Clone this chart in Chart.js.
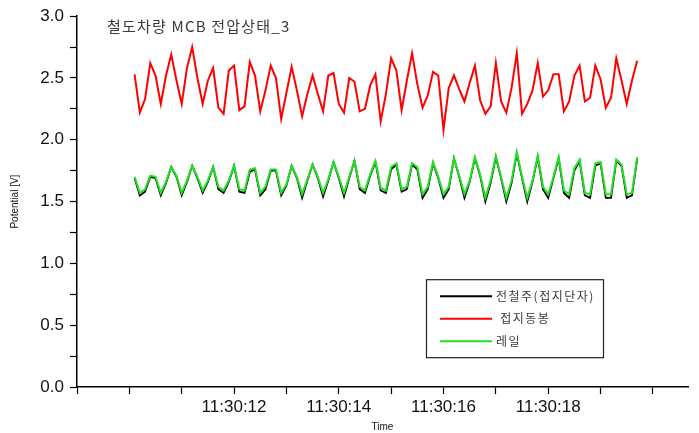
<!DOCTYPE html>
<html>
<head>
<meta charset="utf-8">
<title>철도차량 MCB 전압상태_3</title>
<script src="https://cdn.jsdelivr.net/npm/chart.js@4.4.0/dist/chart.umd.min.js"></script>
<style>
  html, body { margin: 0; padding: 0; background: #fff; }
  #wrap { width: 699px; height: 433px; }
</style>
</head>
<body>
<div id="wrap"><canvas id="mcbChart" width="699" height="433"></canvas></div>
<script>
// sample times, seconds after 11:30:00 (10 samples per second)
const sampleTimes = [
  10.1, 10.2, 10.3, 10.4, 10.5, 10.6, 10.7, 10.8, 10.9, 11.0,
  11.1, 11.2, 11.3, 11.4, 11.5, 11.6, 11.7, 11.8, 11.9, 12.0,
  12.1, 12.2, 12.3, 12.4, 12.5, 12.6, 12.7, 12.8, 12.9, 13.0,
  13.1, 13.2, 13.3, 13.4, 13.5, 13.6, 13.7, 13.8, 13.9, 14.0,
  14.1, 14.2, 14.3, 14.4, 14.5, 14.6, 14.7, 14.8, 14.9, 15.0,
  15.1, 15.2, 15.3, 15.4, 15.5, 15.6, 15.7, 15.8, 15.9, 16.0,
  16.1, 16.2, 16.3, 16.4, 16.5, 16.6, 16.7, 16.8, 16.9, 17.0,
  17.1, 17.2, 17.3, 17.4, 17.5, 17.6, 17.7, 17.8, 17.9, 18.0,
  18.1, 18.2, 18.3, 18.4, 18.5, 18.6, 18.7, 18.8, 18.9, 19.0,
  19.1, 19.2, 19.3, 19.4, 19.5, 19.6, 19.7
];

// 전철주(접지단자)
const poleTerminal = [
  1.69, 1.55, 1.58, 1.70, 1.69, 1.55, 1.65, 1.78, 1.70, 1.55,
  1.66, 1.79, 1.69, 1.57, 1.66, 1.78, 1.60, 1.57, 1.66, 1.79,
  1.58, 1.57, 1.74, 1.76, 1.55, 1.60, 1.75, 1.75, 1.55, 1.63,
  1.79, 1.69, 1.53, 1.67, 1.80, 1.69, 1.54, 1.67, 1.82, 1.69,
  1.54, 1.69, 1.83, 1.60, 1.57, 1.71, 1.82, 1.59, 1.57, 1.76,
  1.80, 1.58, 1.60, 1.80, 1.76, 1.53, 1.60, 1.81, 1.69, 1.53,
  1.60, 1.85, 1.70, 1.53, 1.66, 1.85, 1.71, 1.50, 1.65, 1.86,
  1.69, 1.50, 1.65, 1.89, 1.69, 1.50, 1.66, 1.86, 1.60, 1.53,
  1.69, 1.85, 1.57, 1.53, 1.75, 1.83, 1.55, 1.53, 1.79, 1.81,
  1.53, 1.53, 1.83, 1.79, 1.53, 1.55, 1.85
];

// 접지동봉
const groundRod = [
  2.53, 2.22, 2.33, 2.62, 2.52, 2.29, 2.52, 2.69, 2.48, 2.29,
  2.58, 2.75, 2.50, 2.29, 2.48, 2.58, 2.26, 2.21, 2.56, 2.60,
  2.24, 2.27, 2.63, 2.52, 2.23, 2.40, 2.60, 2.50, 2.17, 2.38,
  2.59, 2.40, 2.19, 2.37, 2.52, 2.37, 2.23, 2.52, 2.54, 2.29,
  2.22, 2.50, 2.47, 2.23, 2.25, 2.44, 2.53, 2.15, 2.37, 2.66,
  2.56, 2.24, 2.48, 2.70, 2.45, 2.26, 2.36, 2.55, 2.52, 2.08,
  2.42, 2.52, 2.41, 2.31, 2.46, 2.60, 2.32, 2.21, 2.27, 2.62,
  2.31, 2.22, 2.42, 2.70, 2.21, 2.29, 2.40, 2.62, 2.35, 2.40,
  2.53, 2.53, 2.23, 2.31, 2.52, 2.60, 2.31, 2.34, 2.60, 2.49,
  2.26, 2.34, 2.66, 2.48, 2.29, 2.48, 2.64
];

// 레일
const railVolt = [
  1.70, 1.57, 1.60, 1.71, 1.70, 1.57, 1.66, 1.78, 1.71, 1.57,
  1.67, 1.79, 1.70, 1.59, 1.67, 1.78, 1.62, 1.59, 1.67, 1.79,
  1.60, 1.59, 1.76, 1.77, 1.57, 1.62, 1.76, 1.76, 1.57, 1.64,
  1.79, 1.70, 1.56, 1.68, 1.80, 1.70, 1.57, 1.68, 1.82, 1.70,
  1.57, 1.70, 1.83, 1.62, 1.59, 1.72, 1.83, 1.61, 1.59, 1.78,
  1.81, 1.60, 1.62, 1.81, 1.78, 1.56, 1.62, 1.82, 1.70, 1.56,
  1.62, 1.85, 1.71, 1.56, 1.67, 1.86, 1.72, 1.53, 1.67, 1.87,
  1.70, 1.53, 1.67, 1.90, 1.70, 1.53, 1.67, 1.87, 1.62, 1.56,
  1.70, 1.86, 1.59, 1.56, 1.77, 1.84, 1.57, 1.56, 1.81, 1.82,
  1.56, 1.56, 1.84, 1.80, 1.56, 1.57, 1.86
];

const seriesNames = ['전철주(접지단자)', ' 접지동봉', '레일'];
const chartTitle = '철도차량 MCB 전압상태_3';
const timeTickLabels = [12, 14, 16, 18];
const yTickLabels = [0, 0.5, 1.0, 1.5, 2.0, 2.5, 3.0];

const isListed = (list, v) => list.some(t => Math.abs(t - v) < 1e-6);

// white page behind everything
const paperBg = {
    id: 'paperBg',
    beforeDraw(chart) {
        const ctx = chart.ctx;
        ctx.save();
        ctx.fillStyle = '#fff';
        ctx.fillRect(0, 0, chart.width, chart.height);
        ctx.restore();
    }
};

// title inside the plot and the boxed legend in the lower right
const plotNotes = {
    id: 'plotNotes',
    afterDraw(chart) {
        const { ctx, chartArea } = chart;
        ctx.save();
        ctx.font = '15px "Noto Sans CJK KR", sans-serif';
        ctx.fillStyle = '#3a3a3a';
        ctx.textBaseline = 'alphabetic';
        ctx.letterSpacing = '1.2px';
        ctx.fillText(chartTitle, chartArea.left + 30, chartArea.top + 16);

        const bx = chartArea.right - 262;
        const by = chartArea.top + 263;
        ctx.strokeStyle = '#222';
        ctx.lineWidth = 1.2;
        ctx.strokeRect(bx + 0.5, by + 0.5, 177, 78);

        ctx.font = '12px "Noto Sans CJK KR", sans-serif';
        ctx.textBaseline = 'middle';
        ctx.letterSpacing = '1.5px';
        chart.data.datasets.forEach((ds, i) => {
            const y = by + 17 + i * 22.5;
            ctx.strokeStyle = ds.borderColor;
            ctx.lineWidth = 2;
            ctx.beginPath();
            ctx.moveTo(bx + 14, y);
            ctx.lineTo(bx + 66, y);
            ctx.stroke();
            ctx.fillStyle = '#3a3a3a';
            ctx.fillText(ds.label, bx + 70, y);
        });
        ctx.restore();
    }
};

const ctx = document.getElementById('mcbChart').getContext('2d');

new Chart(ctx, {
    type: 'line',
    data: {
        labels: sampleTimes,
        datasets: [
            {
                label: seriesNames[0],
                data: poleTerminal,
                borderColor: '#000000',
                borderWidth: 1.8,
                order: 3
            },
            {
                label: seriesNames[1],
                data: groundRod,
                borderColor: '#ff0000',
                borderWidth: 2,
                order: 2
            },
            {
                label: seriesNames[2],
                data: railVolt,
                borderColor: '#22e022',
                borderWidth: 2,
                order: 1
            }
        ]
    },
    options: {
        responsive: false,
        animation: false,
        events: [],
        elements: {
            point: { radius: 0 },
            line: { tension: 0, fill: false }
        },
        layout: {
            padding: { top: 14, right: 11, left: 0, bottom: 0 }
        },
        plugins: {
            legend: { display: false },
            tooltip: { enabled: false }
        },
        scales: {
            x: {
                type: 'linear',
                min: 9,
                max: 20.67,
                afterFit: scale => { scale.height = 46; },
                border: { color: '#000', width: 1.5 },
                grid: {
                    drawOnChartArea: false,
                    drawTicks: true,
                    tickLength: 7,
                    tickColor: '#000',
                    tickWidth: 1.2
                },
                ticks: {
                    stepSize: 1,
                    includeBounds: false,
                    autoSkip: false,
                    maxRotation: 0,
                    padding: 3,
                    color: '#111',
                    font: { family: '"Liberation Sans", Arial, sans-serif', size: 17 },
                    callback: v => isListed(timeTickLabels, v) ? '11:30:' + v : ''
                },
                title: {
                    display: true,
                    text: 'Time',
                    color: '#111',
                    font: { family: '"Liberation Sans", Arial, sans-serif', size: 10 },
                    padding: { top: 0, bottom: 0 }
                }
            },
            y: {
                min: 0,
                max: 3,
                afterFit: scale => { scale.width = 77; },
                border: { color: '#000', width: 1.5 },
                grid: {
                    drawOnChartArea: false,
                    drawTicks: true,
                    tickLength: 7,
                    tickColor: '#000',
                    tickWidth: 1.2
                },
                ticks: {
                    stepSize: 0.25,
                    autoSkip: false,
                    padding: 6,
                    color: '#111',
                    font: { family: '"Liberation Sans", Arial, sans-serif', size: 17 },
                    callback: v => isListed(yTickLabels, v) ? v.toFixed(1) : ''
                },
                title: {
                    display: true,
                    text: 'Potential [V]',
                    color: '#111',
                    font: { family: '"Liberation Sans", Arial, sans-serif', size: 10 },
                    padding: { top: 9, bottom: 0 }
                }
            }
        }
    },
    plugins: [paperBg, plotNotes]
});
</script>
</body>
</html>
